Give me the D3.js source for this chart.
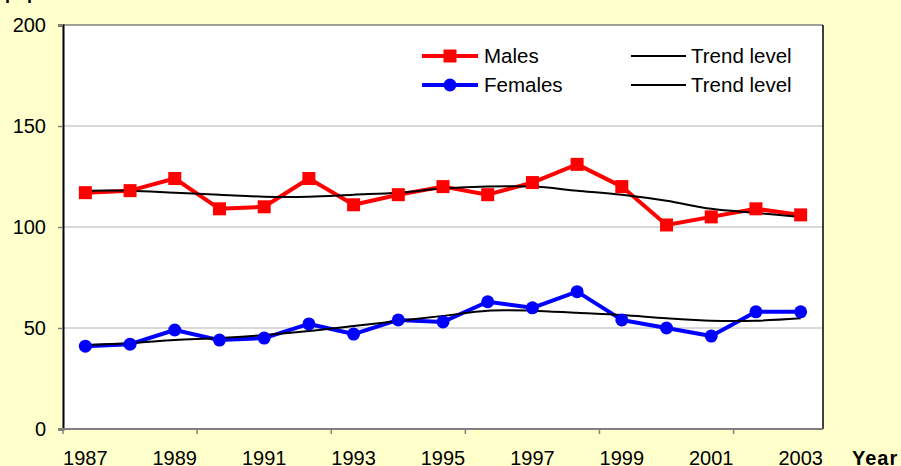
<!DOCTYPE html>
<html>
<head>
<meta charset="utf-8">
<script src="https://cdn.jsdelivr.net/npm/d3@7"></script>
<style>
  html, body { margin: 0; padding: 0; background: #FFFFCC; }
  svg { display: block; }
  text { font-family: Arial, "Liberation Sans", sans-serif; }
</style>
</head>
<body>
<svg id="chart" width="901" height="466"></svg>
<script>
const years = [1987,1988,1989,1990,1991,1992,1993,1994,1995,1996,1997,1998,1999,2000,2001,2002,2003];
const males = [117,118,124,109,110,124,111,116,120,116,122,131,120,101,105,109,106];
const malesTrend = [118,118,117,116,115,115,116,117,119,120,120,118,116,113,109,107,105];
const females = [41,42,49,44,45,52,47,54,53,63,60,68,54,50,46,58,58];
const femalesTrend = [41.6,42.5,44,45,46.5,48.5,51,53.5,56,58.6,58.6,57.5,56.4,54.8,53.6,53.6,54.8];
const yTicks = [0,50,100,150,200];
const xLabels = [1987,1989,1991,1993,1995,1997,1999,2001,2003];
const xTickYears = [1987,1990,1993,1996,1999,2002];
const seriesNames = ["Males","Females","Trend level","Trend level"];
const yTitle = "population";
const xTitle = "Year";

const svg = d3.select("#chart");
const L = 63, R = 823, T = 25, B = 429;

const band = d3.scaleBand().domain(years).range([L, R]).paddingInner(0).paddingOuter(0);
const x = d => band(d) + band.bandwidth() / 2;
const y = d3.scaleLinear().domain([0, 200]).range([B, T]);

// plot area
svg.append("rect").attr("x", L).attr("y", T).attr("width", R - L).attr("height", B - T).attr("fill", "#ffffff");

// gridlines
svg.append("g").selectAll("line").data(yTicks.filter(v => v > 0 && v < 200)).join("line")
  .attr("x1", L).attr("x2", R).attr("y1", d => y(d)).attr("y2", d => y(d))
  .attr("stroke", "#b4b4b4").attr("stroke-width", 1);
// top line (200)
svg.append("line").attr("x1", L).attr("x2", R).attr("y1", y(200)).attr("y2", y(200))
  .attr("stroke", "#808080").attr("stroke-width", 1.5);
// right border
svg.append("line").attr("x1", R).attr("x2", R).attr("y1", T).attr("y2", B)
  .attr("stroke", "#000").attr("stroke-width", 1.5);

// y axis
const yAxis = svg.append("g").attr("transform", `translate(${L},0)`)
  .call(d3.axisLeft(y).tickValues(yTicks).tickSize(5).tickPadding(12));
yAxis.select(".domain").attr("stroke", "#000").attr("stroke-width", 2);
yAxis.selectAll(".tick line").attr("stroke", "#808080").attr("stroke-width", 1.5);
yAxis.selectAll(".tick text").attr("font-size", 20).attr("fill", "#000")
  .attr("font-family", "Arial, 'Liberation Sans', sans-serif");

// x axis
svg.append("line").attr("x1", L - 1).attr("x2", R).attr("y1", B).attr("y2", B)
  .attr("stroke", "#808080").attr("stroke-width", 2);
svg.append("g").selectAll("line").data(xTickYears).join("line")
  .attr("x1", d => band(d)).attr("x2", d => band(d)).attr("y1", B).attr("y2", B + 5)
  .attr("stroke", "#808080").attr("stroke-width", 1.5);
svg.append("g").selectAll("text").data(xLabels).join("text")
  .attr("x", d => x(d)).attr("y", 465).attr("text-anchor", "middle")
  .attr("font-size", 20).attr("fill", "#000").text(d => d);

svg.append("text").attr("x", 852).attr("y", 465).attr("font-size", 20)
  .attr("font-weight", "bold").attr("letter-spacing", 1).attr("fill", "#000").text(xTitle);
svg.append("text").attr("x", 5).attr("y", -1).attr("font-size", 18)
  .attr("font-weight", "bold").attr("fill", "#000").text(yTitle);

const line = d3.line().x((d, i) => x(years[i])).y(d => y(d));
const smooth = d3.line().x((d, i) => x(years[i])).y(d => y(d)).curve(d3.curveCatmullRom.alpha(0.5));

// series
function drawSeries(vals, trend, color, marker) {
  svg.append("path").datum(vals).attr("d", line).attr("fill", "none")
    .attr("stroke", color).attr("stroke-width", 4).attr("stroke-linejoin", "round");
  svg.append("path").datum(trend).attr("d", smooth).attr("fill", "none")
    .attr("stroke", "#000").attr("stroke-width", 2);
  const g = svg.append("g");
  if (marker === "square") {
    g.selectAll("rect").data(vals).join("rect")
      .attr("x", (d, i) => x(years[i]) - 6.5).attr("y", d => y(d) - 6.5)
      .attr("width", 13).attr("height", 13).attr("fill", color);
  } else {
    g.selectAll("circle").data(vals).join("circle")
      .attr("cx", (d, i) => x(years[i])).attr("cy", d => y(d)).attr("r", 6.5).attr("fill", color);
  }
}
drawSeries(males, malesTrend, "#ff0000", "square");
drawSeries(females, femalesTrend, "#0000ff", "circle");

// legend
const leg = svg.append("g");
const rows = [
  {name: seriesNames[0], color: "#ff0000", marker: "square", yy: 56},
  {name: seriesNames[1], color: "#0000ff", marker: "circle", yy: 85}
];
rows.forEach(r => {
  leg.append("line").attr("x1", 422).attr("x2", 478).attr("y1", r.yy).attr("y2", r.yy)
    .attr("stroke", r.color).attr("stroke-width", 4);
  if (r.marker === "square") {
    leg.append("rect").attr("x", 450 - 6.5).attr("y", r.yy - 6.5).attr("width", 13).attr("height", 13).attr("fill", r.color);
  } else {
    leg.append("circle").attr("cx", 450).attr("cy", r.yy).attr("r", 6.5).attr("fill", r.color);
  }
  leg.append("text").attr("x", 484).attr("y", r.yy + 7).attr("font-size", 20.5).attr("fill", "#000").text(r.name);
});
[56, 85].forEach((yy, i) => {
  leg.append("line").attr("x1", 631).attr("x2", 686).attr("y1", yy).attr("y2", yy)
    .attr("stroke", "#000").attr("stroke-width", 2);
  leg.append("text").attr("x", 691).attr("y", yy + 7).attr("font-size", 20.5).attr("fill", "#000").text(seriesNames[2 + i]);
});
</script>
</body>
</html>
